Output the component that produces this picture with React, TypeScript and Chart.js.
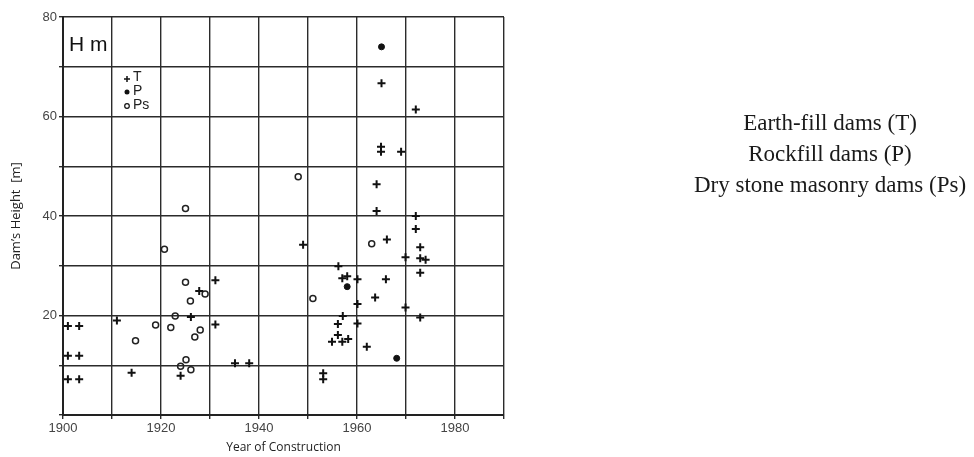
import React, { useEffect, useRef } from "react";
import { Chart, registerables } from "chart.js";

Chart.register(...registerables);

// Earth-fill dams (T) : [year, height]
const earthFillYears = [
  1901, 1903.3, 1901, 1903.3, 1901, 1903.3,
  1911.0, 1914.0, 1926.1, 1927.8, 1931.1, 1931.1, 1924.0, 1935.1, 1938.0,
  1949.0, 1965.0, 1972.0, 1964.9, 1964.9, 1969.0, 1964.0, 1964.0, 1972.0, 1972.0, 1966.1,
  1972.9, 1969.9, 1972.9, 1974.0, 1972.9, 1956.2, 1957.0, 1958.0, 1960.1, 1965.9,
  1963.7, 1960.1, 1969.9, 1957.1, 1972.9, 1956.1, 1960.1, 1956.1, 1954.9, 1957.0,
  1958.2, 1962.0, 1953.1, 1953.1,
];
const earthFillHeights = [
  17.9, 17.9, 11.9, 11.9, 7.2, 7.2,
  19.0, 8.5, 19.7, 24.9, 27.1, 18.2, 7.9, 10.4, 10.4,
  34.2, 66.7, 61.4, 53.9, 52.9, 52.9, 46.4, 41.0, 40.0, 37.4, 35.3,
  33.7, 31.7, 31.5, 31.2, 28.6, 29.9, 27.5, 27.9, 27.3, 27.3,
  23.6, 22.3, 21.6, 19.9, 19.6, 18.3, 18.4, 16.1, 14.7, 14.7,
  15.3, 13.7, 8.4, 7.2,
];

// Rockfill dams (P)
const rockfillYears = [1965.0, 1958.0, 1968.1];
const rockfillHeights = [74.0, 25.8, 11.4];

// Dry stone masonry dams (Ps)
const masonryYears = [
  1914.8, 1918.9, 1920.7, 1922.0, 1922.9, 1925.0, 1926.0, 1926.9, 1928.0,
  1929.0, 1925.1, 1924.0, 1926.1, 1925.0, 1948.0, 1963.0, 1951.0,
];
const masonryHeights = [
  14.9, 18.1, 33.3, 17.6, 19.9, 26.7, 22.9, 15.7, 17.1,
  24.3, 11.1, 9.8, 9.1, 41.5, 47.9, 34.4, 23.4,
];

const xTickLabels = [1900, 1920, 1940, 1960, 1980];
const yTickLabels = [20, 40, 60, 80];
const legendCodes = ["T", "P", "Ps"];
const seriesNames = [
  "Earth-fill dams (T)",
  "Rockfill dams (P)",
  "Dry stone masonry dams (Ps)",
];

const toPoints = (xs: number[], ys: number[]) =>
  xs.map((x, i) => ({ x, y: ys[i] }));

const innerLegend = {
  id: "innerLegend",
  afterDraw(chart: any) {
    const { ctx, chartArea } = chart;
    const L = chartArea.left;
    const T = chartArea.top;
    ctx.save();
    // "H m" label
    ctx.fillStyle = "#111";
    ctx.font = "21px 'Liberation Sans', Arial, sans-serif";
    ctx.textBaseline = "middle";
    ctx.textAlign = "left";
    ctx.fillText("H m", L + 6, T + 28);

    // legend markers
    const mx = L + 64;
    ctx.strokeStyle = "#111";
    ctx.fillStyle = "#111";
    ctx.lineWidth = 1.5;
    // cross
    ctx.beginPath();
    ctx.moveTo(mx - 3, T + 62);
    ctx.lineTo(mx + 3, T + 62);
    ctx.moveTo(mx, T + 59);
    ctx.lineTo(mx, T + 65);
    ctx.stroke();
    // filled dot
    ctx.beginPath();
    ctx.arc(mx, T + 75, 2.5, 0, Math.PI * 2);
    ctx.fill();
    // hollow circle
    ctx.beginPath();
    ctx.lineWidth = 1.2;
    ctx.arc(mx, T + 89, 2.3, 0, Math.PI * 2);
    ctx.stroke();

    ctx.font = "14px 'Liberation Sans', Arial, sans-serif";
    ctx.fillStyle = "#222";
    const ys = [T + 60, T + 74, T + 88];
    legendCodes.forEach((c, i) => ctx.fillText(c, mx + 6, ys[i]));
    ctx.restore();
  },
};

export default function App() {
  const ref = useRef<HTMLCanvasElement | null>(null);

  useEffect(() => {
    if (!ref.current) return;
    const gridColor = "#2b2b2b";
    const chart = new Chart(ref.current, {
      type: "scatter",
      data: {
        datasets: [
          {
            label: seriesNames[0],
            data: toPoints(earthFillYears, earthFillHeights),
            pointStyle: "cross",
            pointRadius: 4,
            borderWidth: 2,
            borderColor: "#111",
            backgroundColor: "#111",
          },
          {
            label: seriesNames[1],
            data: toPoints(rockfillYears, rockfillHeights),
            pointStyle: "circle",
            pointRadius: 3,
            borderWidth: 1,
            borderColor: "#111",
            backgroundColor: "#111",
          },
          {
            label: seriesNames[2],
            data: toPoints(masonryYears, masonryHeights),
            pointStyle: "circle",
            pointRadius: 3,
            borderWidth: 1.5,
            borderColor: "#222",
            backgroundColor: "rgba(255,255,255,0)",
          },
        ],
      },
      options: {
        responsive: false,
        animation: false,
        layout: { padding: { top: 17, right: 470, left: 0, bottom: 0 } },
        plugins: {
          legend: { display: false },
          tooltip: { enabled: false },
        },
        scales: {
          x: {
            type: "linear",
            min: 1900,
            max: 1990,
            afterFit: (s: any) => {
              s.height = 42;
            },
            ticks: {
              stepSize: 10,
              autoSkip: false,
              maxRotation: 0,
              padding: 2,
              color: "#444",
              font: { family: "'Liberation Sans', Arial, sans-serif", size: 13 },
              callback: (v: any) => (xTickLabels.includes(Number(v)) ? String(v) : ""),
            },
            grid: { color: gridColor, lineWidth: 1.4, tickLength: 4, tickColor: gridColor },
            border: { display: true, color: "#222", width: 2 },
            title: {
              display: true,
              text: "Year of Construction",
              color: "#222",
              font: { family: "'Open Sans', sans-serif", size: 12 },
              padding: { top: 0, bottom: 2 },
            },
          },
          y: {
            type: "linear",
            min: 0,
            max: 80,
            afterFit: (s: any) => {
              s.width = 63;
            },
            ticks: {
              stepSize: 10,
              autoSkip: false,
              padding: 2,
              color: "#444",
              font: { family: "'Liberation Sans', Arial, sans-serif", size: 13 },
              callback: (v: any) => (yTickLabels.includes(Number(v)) ? String(v) : ""),
            },
            grid: { color: gridColor, lineWidth: 1.4, tickLength: 4, tickColor: gridColor },
            border: { display: true, color: "#222", width: 2 },
            title: {
              display: true,
              text: "Dam\u2019s Height  [m]",
              color: "#222",
              font: { family: "'Open Sans', sans-serif", size: 13 },
              padding: { top: 8, bottom: 0 },
            },
          },
        },
      },
      plugins: [innerLegend],
    });
    return () => chart.destroy();
  }, []);

  return (
    <div
      style={{
        position: "fixed",
        left: 0,
        top: 0,
        width: 974,
        height: 457,
        background: "#fff",
      }}
    >
      <canvas ref={ref} width={974} height={457} style={{ display: "block" }} />
      <div
        style={{
          position: "absolute",
          left: 686,
          top: 107,
          width: 288,
          textAlign: "center",
          fontFamily: "'Liberation Serif', 'Times New Roman', serif",
          fontSize: 23,
          lineHeight: "31px",
          color: "#1a1a1a",
          whiteSpace: "nowrap",
        }}
      >
        {seriesNames.map((n) => (
          <div key={n}>{n}</div>
        ))}
      </div>
    </div>
  );
}
